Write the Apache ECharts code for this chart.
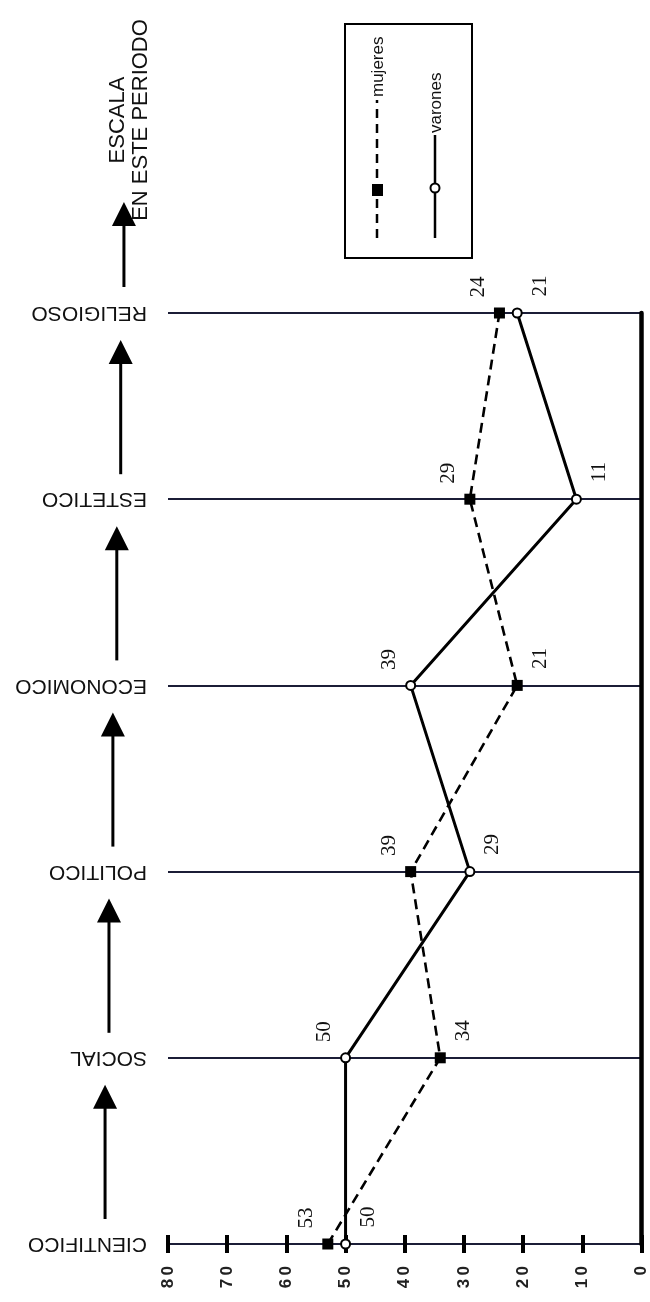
<!DOCTYPE html>
<html>
<head>
<meta charset="utf-8">
<script src="https://cdn.jsdelivr.net/npm/echarts@6/dist/echarts.min.js"></script>
<style>
  html, body { margin: 0; padding: 0; background: #fff; }
  #chart { width: 650px; height: 1302px; }
</style>
</head>
<body>
<div id="chart"></div>
<script>
// categorias (de abajo hacia arriba)
const categorias = ['CIENTIFICO', 'SOCIAL', 'POLITICO', 'ECONOMICO', 'ESTETICO', 'RELIGIOSO'];
const mujeres = [53, 34, 39, 21, 29, 24];
const varones = [50, 50, 29, 39, 11, 21];
const escalaTicks = [0, 10, 20, 30, 40, 50, 60, 70, 80];

const ink = '#111';
const sans = 'Liberation Sans, Arial, sans-serif';
const serif = 'Liberation Serif, Times New Roman, serif';

const chart = echarts.init(document.getElementById('chart'));

// la etiqueta va del lado contrario a la otra serie
function withLabels(vals, other) {
    return vals.map(function (v, i) {
        const left = v >= other[i];
        return {
            value: v,
            label: { offset: left ? [26, -21] : [27, 23] }
        };
    });
}

const valueAxisBase = {
    type: 'value',
    inverse: true,
    min: escalaTicks[0],
    max: escalaTicks[escalaTicks.length - 1],
    interval: 10,
    position: 'bottom',
    splitLine: { show: false }
};

chart.setOption({
    animation: false,
    backgroundColor: '#fff',
    grid: { left: 168, right: 6, top: 313, bottom: 58 },
    xAxis: [
        Object.assign({}, valueAxisBase, {
            axisLine: { lineStyle: { color: '#000', width: 4.5 } },
            axisTick: { show: true, inside: true, length: 9, lineStyle: { color: '#000', width: 4 } },
            axisLabel: {
                rotate: 90, margin: 22, fontSize: 17, fontWeight: 'bold',
                fontFamily: sans, color: '#222',
                formatter: function (v) { return String(v).split('').join('\u2009'); }
            }
        }),
        Object.assign({}, valueAxisBase, {
            axisLine: { show: false },
            axisTick: { show: true, inside: false, length: 9, lineStyle: { color: '#000', width: 4 } },
            axisLabel: { show: false }
        })
    ],
    yAxis: [
        {
            type: 'category',
            data: categorias,
            boundaryGap: false,
            position: 'left',
            axisLine: { show: false },
            axisTick: { show: false },
            axisLabel: { rotate: 180, margin: 21, fontSize: 21, fontFamily: sans, color: ink },
            splitLine: { show: true, lineStyle: { color: '#1b1d36', width: 2.2 } }
        },
        {
            type: 'category',
            data: categorias,
            boundaryGap: false,
            position: 'right',
            axisLine: { lineStyle: { color: '#000', width: 4.5 } },
            axisTick: { show: false },
            axisLabel: { show: false },
            splitLine: { show: false }
        }
    ],
    series: [
        {
            name: 'mujeres',
            type: 'line',
            yAxisIndex: 0,
            data: withLabels(mujeres, varones),
            symbol: 'rect',
            symbolSize: 11,
            itemStyle: { color: '#000' },
            lineStyle: { color: '#000', width: 2.6, type: [10, 6] },
            label: {
                show: true, position: 'inside', rotate: 90,
                align: 'center', verticalAlign: 'middle',
                fontSize: 21, fontFamily: serif, color: ink
            },
            z: 3
        },
        {
            name: 'varones',
            type: 'line',
            yAxisIndex: 0,
            data: withLabels(varones, mujeres),
            symbol: 'circle',
            symbolSize: 9,
            itemStyle: { color: '#fff', borderColor: '#000', borderWidth: 2 },
            lineStyle: { color: '#000', width: 3 },
            label: {
                show: true, position: 'inside', rotate: 90,
                align: 'center', verticalAlign: 'middle',
                fontSize: 21, fontFamily: serif, color: ink
            },
            z: 4
        }
    ]
});

// flechas entre categorias, leyenda y texto de escala
function arrow(x, yBottom, yTop) {
    return [
        { type: 'line', shape: { x1: x, y1: yBottom, x2: x, y2: yTop + 20 }, style: { stroke: '#000', lineWidth: 3 } },
        { type: 'polygon', shape: { points: [[x, yTop], [x - 12, yTop + 24], [x + 12, yTop + 24]] }, style: { fill: '#000' } }
    ];
}
const ys = categorias.map(function (c) { return chart.convertToPixel({ yAxisIndex: 0 }, c); });
const arrowX = function (y) { return 124 - 0.021 * (y - 250); };
let elements = [];
for (let i = 0; i < ys.length - 1; i++) {
    const yb = ys[i] - 25, yt = ys[i + 1] + 27;
    elements = elements.concat(arrow(arrowX((yb + yt) / 2), yb, yt));
}
const topY = ys[ys.length - 1];
elements = elements.concat(arrow(arrowX(topY - 60), topY - 26, topY - 111));
elements.push({
    type: 'text', x: 129, y: 120, rotation: Math.PI / 2,
    style: {
        text: 'ESCALA\nEN ESTE PERIODO', align: 'center', verticalAlign: 'middle',
        fontSize: 22, lineHeight: 23, fontFamily: sans, fill: ink
    }
});

// leyenda
elements.push({ type: 'rect', shape: { x: 345, y: 24, width: 127, height: 234 }, style: { fill: 'none', stroke: '#000', lineWidth: 2 } });
elements.push({ type: 'line', shape: { x1: 377, y1: 238, x2: 377, y2: 100 }, style: { stroke: '#000', lineWidth: 2.5, lineDash: [9, 6] } });
elements.push({ type: 'rect', shape: { x: 372, y: 184, width: 11, height: 12 }, style: { fill: '#000' } });
elements.push({ type: 'text', x: 378, y: 97, rotation: Math.PI / 2, style: { text: 'mujeres', align: 'left', verticalAlign: 'middle', fontSize: 17, fontFamily: sans, fill: ink } });
elements.push({ type: 'line', shape: { x1: 435, y1: 238, x2: 435, y2: 135 }, style: { stroke: '#000', lineWidth: 2.5 } });
elements.push({ type: 'circle', shape: { cx: 435, cy: 188, r: 4.5 }, style: { fill: '#fff', stroke: '#000', lineWidth: 2 } });
elements.push({ type: 'text', x: 436, y: 133, rotation: Math.PI / 2, style: { text: 'varones', align: 'left', verticalAlign: 'middle', fontSize: 17, fontFamily: sans, fill: ink } });

chart.setOption({ graphic: { elements: elements } });
</script>
</body>
</html>
